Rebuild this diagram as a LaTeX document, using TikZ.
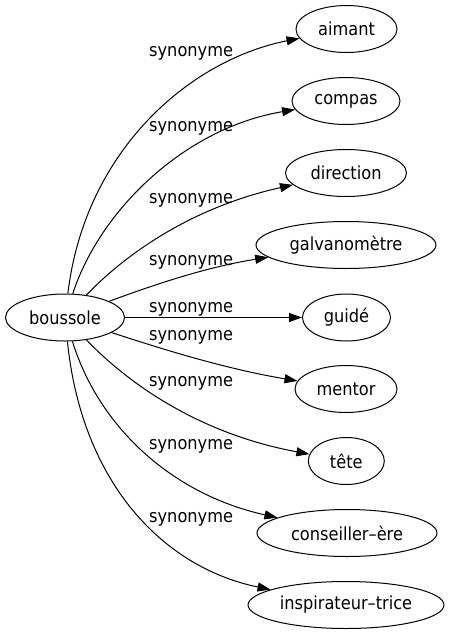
\documentclass[tikz,border=0pt]{standalone}
\usepackage{fontspec}
\setmainfont{DejaVu Sans}[FakeStretch=0.9]
\usetikzlibrary{arrows.meta,shapes.geometric}
\begin{document}
\begin{tikzpicture}[x=1pt,y=-1pt,
  every node/.style={font=\fontsize{18}{21}\selectfont},
  word/.style={ellipse, draw, line width=1pt, inner sep=0pt, minimum height=47pt},
  lbl/.style={anchor=base west, inner sep=0pt},
  syn/.style={draw, line width=1pt, -{Triangle[length=13pt,width=9pt]}}]
\useasboundingbox (0,0) rectangle (449,635);
\node[word, minimum width=119pt] (b) at (65,317.5) {boussole};
\node[word, minimum width=101pt] (n1) at (346.5,29) {aimant};
\node[word, minimum width=108pt] (n2) at (346,101) {compas};
\node[word, minimum width=121pt] (n3) at (346,173) {direction};
\node[word, minimum width=180pt] (n4) at (346,245) {galvanomètre};
\node[word, minimum width=88pt] (n5) at (346.5,317.5) {guidé};
\node[word, minimum width=102pt] (n6) at (346,389) {mentor};
\node[word, minimum width=76pt] (n7) at (346.3,461) {tête};
\node[word, minimum width=180pt] (n8) at (347,533) {conseiller–ère};
\node[word, minimum width=196pt] (n9) at (346,605) {inspirateur–trice};
\draw[syn] (b) .. controls (85,150) and (190,60) .. (n1);
\draw[syn] (b) .. controls (100,210) and (185,128) .. (n2);
\draw[syn] (b) .. controls (115,265) and (180,210) .. (n3);
\draw[syn] (b) .. controls (140,290) and (200,268) .. (n4);
\draw[syn] (b) -- (n5);
\draw[syn] (b) .. controls (150,345) and (220,368) .. (n6);
\draw[syn] (b) .. controls (120,375) and (190,432) .. (n7);
\draw[syn] (b) .. controls (100,430) and (175,495) .. (n8);
\draw[syn] (b) .. controls (82,485) and (165,568) .. (n9);
\node[lbl] (l1) at (149,56.7) {synonyme};
\node[lbl] (l2) at (149,131.7) {synonyme};
\node[lbl] (l3) at (149,203.3) {synonyme};
\node[lbl] (l4) at (149,265) {synonyme};
\node[lbl] (l5) at (149,312.7) {synonyme};
\node[lbl] (l6) at (149,340) {synonyme};
\node[lbl] (l7) at (149,386.7) {synonyme};
\node[lbl] (l8) at (149,449.3) {synonyme};
\node[lbl] (l9) at (149,522.7) {synonyme};
\end{tikzpicture}
\end{document}
